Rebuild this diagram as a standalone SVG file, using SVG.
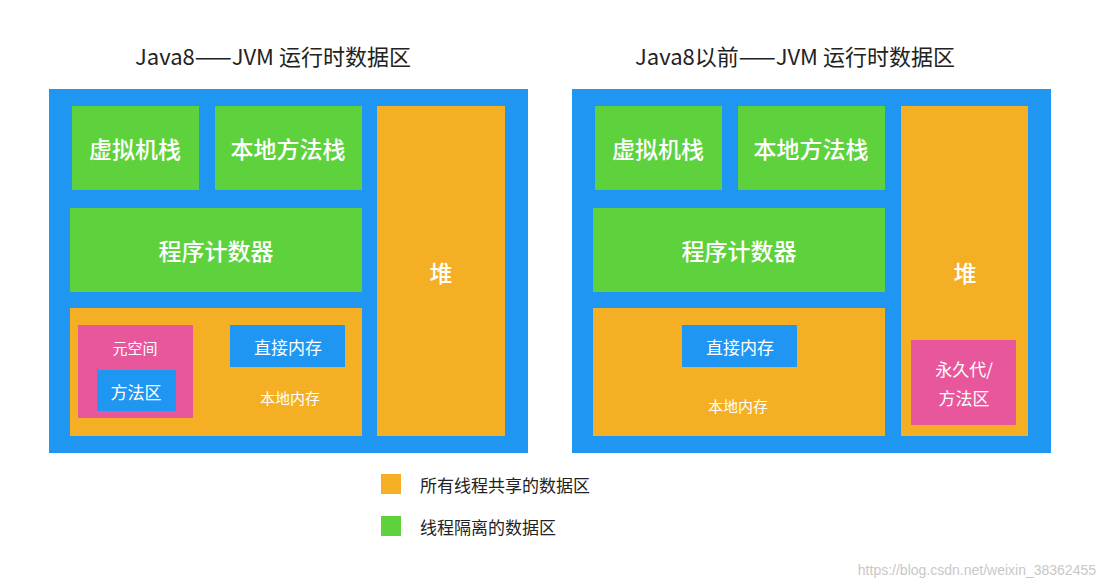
<svg xmlns="http://www.w3.org/2000/svg" width="1106" height="588" viewBox="0 0 1106 588">
<style>
text{font-family:"Noto Sans CJK SC","Noto Sans",sans-serif;fill:#fff;text-anchor:middle;dominant-baseline:central}
.b{fill:#1E96F2}.g{fill:#5DD23C}.o{fill:#F5AF24}.p{fill:#E8579B}
.big{font-size:23px;font-weight:500}.mid{font-size:17px}.sm{font-size:15px}
.t{fill:#222;font-size:22px}.lg{fill:#222;font-size:17px;text-anchor:start}
</style>
<rect width="1106" height="588" fill="#fff"/>
<text class="t" x="273" y="55">Java8——JVM 运行时数据区</text>
<text class="t" x="795" y="55">Java8以前——JVM 运行时数据区</text>
<g id="left">
<rect class="b" x="49" y="89" width="479" height="364"/>
<g id="l-vmstack"><rect class="g" x="72" y="106" width="127" height="84"/><text class="big" x="135" y="148">虚拟机栈</text></g>
<g id="l-native"><rect class="g" x="215" y="106" width="147" height="84"/><text class="big" x="288" y="148">本地方法栈</text></g>
<g id="l-pc"><rect class="g" x="70" y="208" width="292" height="84"/><text class="big" x="216" y="250">程序计数器</text></g>
<g id="l-heap"><rect class="o" x="377" y="106" width="128" height="330"/><text class="big" x="441" y="272">堆</text></g>
<g id="l-native-mem"><rect class="o" x="70" y="308" width="292" height="128"/><text class="sm" x="290" y="397">本地内存</text></g>
<g id="l-meta"><rect class="p" x="78" y="325" width="115" height="93"/><text class="sm" x="135" y="347">元空间</text></g>
<g id="l-method"><rect class="b" x="97" y="370" width="79" height="41"/><text class="mid" x="136" y="391">方法区</text></g>
<g id="l-direct"><rect class="b" x="230" y="325" width="115" height="42"/><text class="mid" x="288" y="346">直接内存</text></g>
</g>
<g id="right">
<rect class="b" x="572" y="89" width="479" height="364"/>
<g id="r-vmstack"><rect class="g" x="595" y="106" width="127" height="84"/><text class="big" x="658" y="148">虚拟机栈</text></g>
<g id="r-native"><rect class="g" x="738" y="106" width="147" height="84"/><text class="big" x="811" y="148">本地方法栈</text></g>
<g id="r-pc"><rect class="g" x="593" y="208" width="292" height="84"/><text class="big" x="739" y="250">程序计数器</text></g>
<g id="r-heap"><rect class="o" x="901" y="106" width="127" height="330"/><text class="big" x="965" y="272">堆</text></g>
<g id="r-perm"><rect class="p" x="911" y="340" width="105" height="85"/><text class="mid" x="964" y="368">永久代/</text><text class="mid" x="964" y="397">方法区</text></g>
<g id="r-native-mem"><rect class="o" x="593" y="308" width="292" height="128"/><text class="sm" x="738" y="405">本地内存</text></g>
<g id="r-direct"><rect class="b" x="682" y="325" width="115" height="42"/><text class="mid" x="740" y="346">直接内存</text></g>
</g>
<g id="legend">
<rect class="o" x="381" y="474" width="20" height="20"/><text class="lg" x="420" y="484">所有线程共享的数据区</text>
<rect class="g" x="381" y="516" width="20" height="20"/><text class="lg" x="420" y="526">线程隔离的数据区</text>
</g>
<text x="1096" y="570" style="fill:#c8c8c8;font-size:14px;text-anchor:end;font-family:'Liberation Sans',sans-serif">https://blog.csdn.net/weixin_38362455</text>
<g id="connectors"/>
</svg>
